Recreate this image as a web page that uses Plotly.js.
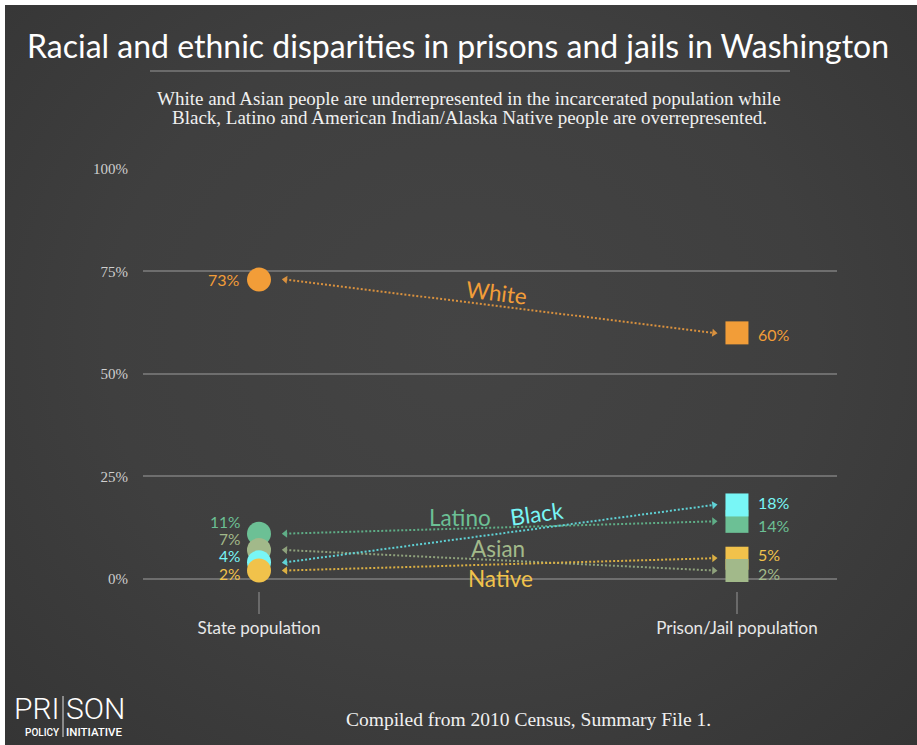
<!DOCTYPE html>
<html>
<head>
<meta charset="utf-8">
<script src="https://cdn.plot.ly/plotly-3.0.1.min.js"></script>
<style>
  html, body { margin: 0; padding: 0; background: #ffffff; }
  #bg { position: absolute; left: 5px; top: 5px; width: 912px; height: 740px;
        background: radial-gradient(ellipse at 50% 45%, #444444 0%, #3f3f3f 55%, #353535 100%); }
  #chart { position: absolute; left: 0; top: 0; width: 917px; height: 745px; }
</style>
</head>
<body>
<div id="bg"></div>
<div id="chart"></div>
<script>
// ---- data ----
const categories = ['State population', 'Prison/Jail population'];
const groups = ['White', 'Latino', 'Asian', 'Black', 'Native'];
const statePct = [73, 11, 7, 4, 2];
const prisonPct = [60, 14, 2, 18, 5];
const yTickVals = [0, 25, 50, 75, 100];

// ---- styles ----
const colors = { White: '#f29d38', Latino: '#6cc095', Asian: '#a2b98a', Black: '#78f6f6', Native: '#f1c24b' };
const arrowColors = { White: '#d9913e', Latino: '#5fae87', Asian: '#8fa27c', Black: '#5fd2d6', Native: '#dcb043' };
const SANS = 'Lato, "Open Sans", sans-serif';
const SERIF = '"Liberation Serif", "DejaVu Serif", serif';

const W = 917, H = 745;
const M = { l: 143, r: 80, t: 169, b: 154 };
const xRange = [-0.2427, 1.2093];
const yRange = [-3, 100];
const pw = W - M.l - M.r, ph = H - M.t - M.b;
const px2x = p => (p - M.l) / pw;           // pixel -> paper x
const py2y = p => (H - M.b - p) / ph;       // pixel -> paper y
const pxPerX = pw / (xRange[1] - xRange[0]);
const pxPerY = ph / (yRange[1] - yRange[0]);

const idx = g => groups.indexOf(g);
const traces = [];

// dotted double-headed arrows
const ax0 = 0.055, ax1 = 0.952;
groups.forEach((g, i) => {
  const dy = -(prisonPct[i] - statePct[i]) * pxPerY;
  const dx = (ax1 - ax0) * pxPerX;
  const ang = Math.atan2(dy, dx) * 180 / Math.PI;
  traces.push({
    type: 'scatter', mode: 'lines+markers', x: [ax0, ax1], y: [statePct[i], prisonPct[i]],
    line: { color: arrowColors[g], width: 2, dash: '2px,2px' },
    marker: { symbol: ['triangle-left', 'triangle-right'], size: 7, angle: [ang, ang], color: arrowColors[g] },
    hoverinfo: 'skip', cliponaxis: false, showlegend: false
  });
});

// state circles (draw order)
['White', 'Latino', 'Asian', 'Black', 'Native'].forEach(g => {
  traces.push({
    type: 'scatter', mode: 'markers', x: [0], y: [statePct[idx(g)]],
    marker: { symbol: 'circle', size: 24, color: colors[g], line: { width: 0 } },
    cliponaxis: false, showlegend: false, name: g
  });
});
// prison squares (draw order)
['White', 'Latino', 'Black', 'Native', 'Asian'].forEach(g => {
  traces.push({
    type: 'scatter', mode: 'markers', x: [1], y: [prisonPct[idx(g)]],
    marker: { symbol: 'square', size: 23, color: colors[g], line: { width: 0 } },
    cliponaxis: false, showlegend: false, name: g
  });
});

const annotations = [];
// value labels
const leftShift = { White: 0, Latino: 12, Asian: 11.5, Black: 6, Native: -3 };
const rightShift = { White: -2, Latino: -3.7, Asian: -2.5, Black: 2, Native: 4 };
groups.forEach((g, i) => {
  annotations.push({ x: 0, y: statePct[i], xref: 'x', yref: 'y', text: statePct[i] + '%',
    showarrow: false, xanchor: 'right', yanchor: 'middle', xshift: -17, yshift: leftShift[g],
    font: { family: SANS, size: g === 'White' ? 16 : 15.5, color: colors[g] } });
  annotations.push({ x: 1, y: prisonPct[i], xref: 'x', yref: 'y', text: prisonPct[i] + '%',
    showarrow: false, xanchor: 'left', yanchor: 'middle', xshift: 19, yshift: rightShift[g],
    font: { family: SANS, size: 16, color: colors[g] } });
});
// group labels
const gl = { White: [497, 292, 7], Latino: [460, 517, 0], Black: [537, 513, -8], Asian: [498, 548, 0], Native: [500, 578, 0] };
groups.forEach(g => {
  const p = gl[g];
  annotations.push({ x: px2x(p[0]), y: py2y(p[1]), xref: 'paper', yref: 'paper', text: g, textangle: p[2],
    showarrow: false, xanchor: 'center', yanchor: 'middle',
    font: { family: SANS, size: 22.5, color: colors[g] } });
});
// title, subtitle, footer, logo
annotations.push({ x: px2x(458), y: py2y(45), xref: 'paper', yref: 'paper', showarrow: false,
  text: 'Racial and ethnic disparities in prisons and jails in Washington', xanchor: 'center', yanchor: 'middle',
  font: { family: SANS, size: 32, color: '#ffffff' } });
annotations.push({ x: px2x(469), y: py2y(99), xref: 'paper', yref: 'paper', showarrow: false,
  text: 'White and Asian people are underrepresented in the incarcerated population while',
  xanchor: 'center', yanchor: 'middle', font: { family: SERIF, size: 19, color: '#f0f0f0' } });
annotations.push({ x: px2x(469), y: py2y(118), xref: 'paper', yref: 'paper', showarrow: false,
  text: 'Black, Latino and American Indian/Alaska Native people are overrepresented.',
  xanchor: 'center', yanchor: 'middle', font: { family: SERIF, size: 19, color: '#f0f0f0' } });
annotations.push({ x: px2x(528), y: py2y(719), xref: 'paper', yref: 'paper', showarrow: false,
  text: 'Compiled from 2010 Census, Summary File 1.', xanchor: 'center', yanchor: 'middle',
  font: { family: SERIF, size: 19.5, color: '#f0f0f0' } });
annotations.push({ x: px2x(62), y: py2y(708), xref: 'paper', yref: 'paper', showarrow: false, text: 'PRI',
  xanchor: 'right', yanchor: 'middle', font: { family: 'Roboto, sans-serif', size: 30, color: '#ffffff', weight: 300 } });
annotations.push({ x: px2x(64), y: py2y(708), xref: 'paper', yref: 'paper', showarrow: false, text: 'SON',
  xanchor: 'left', yanchor: 'middle', font: { family: 'Roboto, sans-serif', size: 30, color: '#ffffff', weight: 300 } });
annotations.push({ x: px2x(62), y: py2y(732), xref: 'paper', yref: 'paper', showarrow: false, text: 'POLICY',
  xanchor: 'right', yanchor: 'middle', font: { family: 'Roboto, sans-serif', size: 10, color: '#ffffff', weight: 500 } });
annotations.push({ x: px2x(64), y: py2y(732), xref: 'paper', yref: 'paper', showarrow: false, text: 'INITIATIVE',
  xanchor: 'left', yanchor: 'middle', font: { family: 'Roboto, sans-serif', size: 11.5, color: '#ffffff', weight: 500 } });

const shapes = [
  { type: 'line', xref: 'paper', yref: 'paper', x0: px2x(150), x1: px2x(790), y0: py2y(71), y1: py2y(71),
    line: { color: '#7a7a7a', width: 1.5 } },
  { type: 'line', xref: 'paper', yref: 'paper', x0: px2x(63), x1: px2x(63), y0: py2y(696), y1: py2y(737),
    line: { color: '#dddddd', width: 1 } }
];

const layout = {
  width: W, height: H, margin: M,
  paper_bgcolor: 'rgba(0,0,0,0)', plot_bgcolor: 'rgba(0,0,0,0)',
  showlegend: false, hovermode: false,
  xaxis: { range: xRange, tickvals: [0, 1], ticktext: categories, showgrid: false, zeroline: false, showline: false,
    ticks: 'outside', ticklen: 22, tickwidth: 2, tickcolor: '#6a6a6a',
    tickfont: { family: SANS, size: 17, color: '#e8e8e8' }, fixedrange: true },
  yaxis: { range: yRange, tickvals: yTickVals, ticktext: yTickVals.map(v => v + '%'),
    showgrid: true, gridcolor: '#6e6e6e', gridwidth: 2, zeroline: false, showline: false, ticks: '',
    ticklabelstandoff: 14, tickfont: { family: SERIF, size: 15, color: '#cfcfcf' }, fixedrange: true },
  annotations: annotations, shapes: shapes
};

Plotly.newPlot('chart', traces, layout, { displayModeBar: false, staticPlot: true });
</script>
</body>
</html>
